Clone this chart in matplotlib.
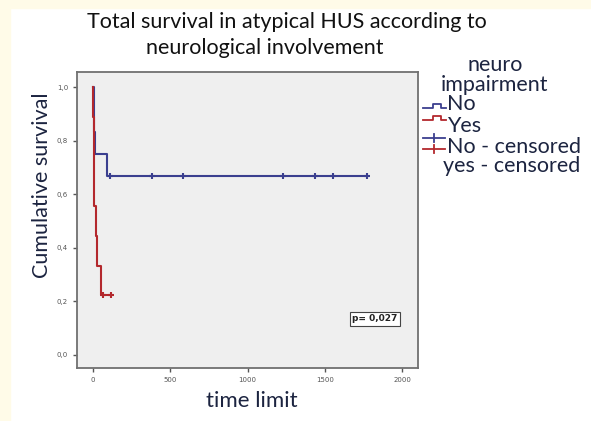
import matplotlib.pyplot as plt
from matplotlib.lines import Line2D
from matplotlib.patches import Rectangle

# Kaplan-Meier steps
no_times = [0, 8, 10, 13, 89, 1771]
no_surv = [1.0, 0.917, 0.833, 0.75, 0.667, 0.667]
no_censor_times = [110, 382, 583, 1232, 1437, 1551, 1771]
no_censor_surv = [0.667] * 7

yes_times = [0, 2, 4, 6, 8, 19, 28, 50, 65]
yes_surv = [1.0, 0.889, 0.778, 0.667, 0.556, 0.444, 0.333, 0.222, 0.222]
yes_censor_times = [65, 115]
yes_censor_surv = [0.222, 0.222]

xticks = [0, 500, 1000, 1500, 2000]
yticks = [0.0, 0.2, 0.4, 0.6, 0.8, 1.0]
ytick_labels = ["0,0", "0,2", "0,4", "0,6", "0,8", "1,0"]

blue = "#3b3f8f"
red = "#b3282d"
txt = "#1c2440"
font = "Lato"

fig = plt.figure(figsize=(5.91, 4.21), dpi=100)
fig.patches.append(Rectangle((0, 0), 10 / 591, 1, transform=fig.transFigure,
                             color="#fffbe8", zorder=-5))
fig.patches.append(Rectangle((0, 1 - 8 / 421), 1, 8 / 421, transform=fig.transFigure,
                             color="#fffbe8", zorder=-5))

ax = fig.add_axes([77 / 591, 53 / 421, 341 / 591, 296 / 421])
ax.set_facecolor("#efefef")

ax.step(no_times, no_surv, where="post", color=blue, lw=1.5)
ax.step(yes_times, yes_surv, where="post", color=red, lw=1.5)
ax.plot(no_censor_times, no_censor_surv, "+", color=blue, ms=5, mew=1.5)
ax.plot(yes_censor_times, yes_censor_surv, "+", color=red, ms=5, mew=1.5)
ax.plot([65, 115], [0.222, 0.222], color=red, lw=1.5)

ax.set_xlim(-103, 2103)
ax.set_ylim(-0.049, 1.056)
ax.set_xticks(xticks)
ax.set_yticks(yticks)
ax.set_yticklabels(ytick_labels)
ax.tick_params(labelsize=5, colors="#555555", length=3, width=1)
for s in ax.spines.values():
    s.set_color("#707070")
    s.set_linewidth(1.3)


def fx(px):
    return px / 591


def fy(py):
    return 1 - py / 421


fig.text(fx(252), fy(401), "time limit", ha="center", va="center",
         fontsize=16, color=txt, family=font)
fig.text(fx(42), fy(185), "Cumulative survival", ha="center", va="center",
         rotation=90, fontsize=15.5, color=txt, family=font)

fig.text(fx(287), fy(22), "Total survival in atypical HUS according to",
         ha="center", va="center", fontsize=15.5, color="#111111", family=font)
fig.text(fx(265), fy(48), "neurological involvement",
         ha="center", va="center", fontsize=15.5, color="#111111", family=font)

ax.text(0.874, 0.166, "p= 0,027", transform=ax.transAxes, ha="center", va="center",
        fontsize=6.5, color="#222222", fontweight="bold",
        bbox=dict(boxstyle="square,pad=0.25", fc="white", ec="#444444", lw=0.8))

# legend drawn by hand
fig.text(fx(495), fy(65), "neuro", ha="center", va="center",
         fontsize=15.5, color=txt, family=font)
fig.text(fx(495), fy(85), "impairment", ha="center", va="center",
         fontsize=15.5, color=txt, family=font)
rows = [("No", 447, 104), ("Yes", 447, 126), ("No - censored", 447, 147),
        ("yes - censored", 443, 166)]
for label, x, y in rows:
    fig.text(fx(x), fy(y), label, ha="left", va="center",
             fontsize=15.5, color=txt, family=font)

for col, y0 in [(blue, 108), (red, 120)]:
    fig.add_artist(Line2D([fx(423), fx(433), fx(433), fx(441), fx(441), fx(446)],
                          [fy(y0), fy(y0), fy(y0 - 4), fy(y0 - 4), fy(y0), fy(y0)],
                          color=col, lw=1.3))
for col, y0 in [(blue, 138), (red, 149)]:
    fig.add_artist(Line2D([fx(423), fx(445)], [fy(y0), fy(y0)], color=col, lw=1.3))
    fig.add_artist(Line2D([fx(434), fx(434)], [fy(y0 - 4), fy(y0 + 4)], color=col, lw=1.3))

fig.savefig("out.png", dpi=100)
